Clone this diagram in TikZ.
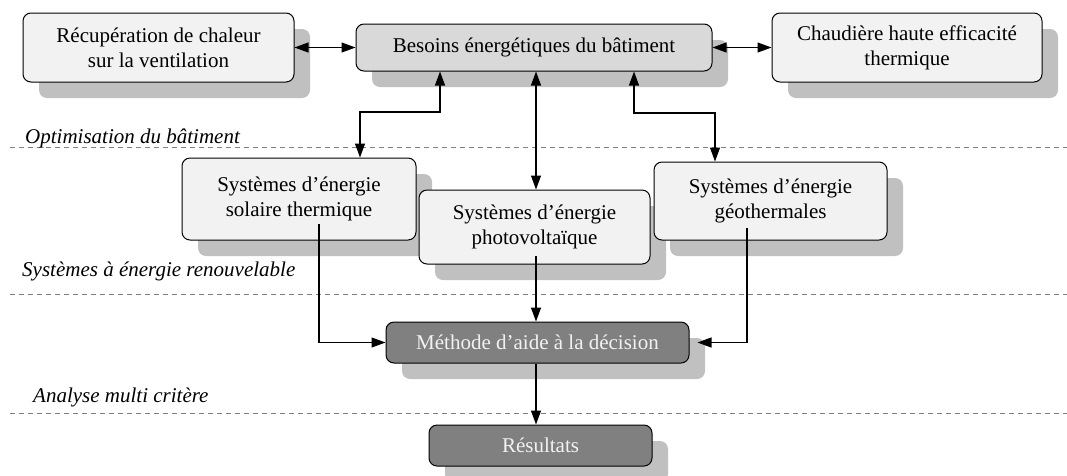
\documentclass[tikz,border=0pt]{standalone}
\usepackage{fontspec}
\setmainfont{Liberation Serif}
\usetikzlibrary{arrows.meta,shadows,calc}
\definecolor{light}{HTML}{F2F2F2}
\definecolor{mid}{HTML}{D9D9D9}
\definecolor{dark}{HTML}{808080}
\definecolor{shad}{HTML}{C0C0C0}
\definecolor{sep}{HTML}{7F7F7F}
\definecolor{wtext}{HTML}{F2F2F2}
\newcommand\bigf{\fontsize{21}{25}\selectfont}
\tikzset{
  box/.style={draw=black, line width=1pt, rounded corners=8pt, align=center, inner sep=0pt,
    font=\bigf, fill=light,
    general shadow={shadow xshift=16pt, shadow yshift=-16pt, fill=shad, draw=none}},
  midbox/.style={box, fill=mid},
  darkbox/.style={box, fill=dark, text=wtext},
  tip/.tip={Triangle[length=14pt,width=10pt]},
  arr/.style={-tip, line width=1.1pt},
  darr/.style={tip-tip, line width=1.1pt},
  sepline/.style={draw=sep, line width=1pt, dash pattern=on 5pt off 4pt},
  lbl/.style={font=\bigf\itshape, anchor=base west, inner sep=0pt},
}
\begin{document}
\begin{tikzpicture}[x=1pt,y=-1pt]
\useasboundingbox (0,0) rectangle (1067,475);
% separators
\coordinate (l1a) at (10,147); \coordinate (l1b) at (1067,147);
\coordinate (l2a) at (10,294); \coordinate (l2b) at (1067,294);
\coordinate (l3a) at (10,413); \coordinate (l3b) at (1067,413);
\draw[sepline] (l1a) -- (l1b);
\draw[sepline] (l2a) -- (l2b);
\draw[sepline] (l3a) -- (l3b);
\node[lbl] (t1) at (25,143) {Optimisation du bâtiment};
\node[lbl] (t2) at (22,276) {Systèmes à énergie renouvelable};
\node[lbl] (t3) at (33,402) {Analyse multi critère};
% boxes
\node[box, minimum width=271pt, minimum height=69pt] (recup) at (158.5,47.5) {Récupération de chaleur\\sur la ventilation};
\node[midbox, minimum width=356pt, minimum height=47pt] (besoins) at (534,47.5) {Besoins énergétiques du bâtiment};
\node[box, minimum width=270pt, minimum height=69pt] (chaud) at (907,47.5) {Chaudière haute efficacité\\thermique};
\node[box, minimum width=234pt, minimum height=82pt] (sol) at (299,199) {Systèmes d’énergie\\solaire thermique};
\node[box, minimum width=231pt, minimum height=74pt] (pv) at (534.5,227) {Systèmes d’énergie\\photovoltaïque};
\node[box, minimum width=233pt, minimum height=78pt] (geo) at (770.5,201) {Systèmes d’énergie\\géothermales};
\node[darkbox, minimum width=303pt, minimum height=41pt] (meth) at (537.5,342.5) {Méthode d’aide à la décision};
\node[darkbox, minimum width=223pt, minimum height=41pt] (res) at (540.5,445.5) {Résultats};
% connectors
\draw[darr] (recup.east) -- (besoins.west);
\draw[darr] (besoins.east) -- (chaud.west);
\draw[darr] (besoins.south -| 440,0) -- (440,112) -| (sol.north -| 360,0);
\draw[darr] (besoins.south -| 536,0) -- (pv.north -| 536,0);
\draw[darr] (besoins.south -| 634,0) -- (634,113) -| (geo.north -| 715,0);
\coordinate (s1) at (319,224);
\coordinate (p1) at (536,256);
\coordinate (g1) at (747,228);
\draw[arr] (s1) |- (meth.west);
\draw[arr] (p1) -- (meth.north -| p1);
\draw[arr] (g1) |- ($(meth.east)+(8,0)$);
\draw[arr] (meth.south -| 536,0) -- (res.north -| 536,0);
\end{tikzpicture}
\end{document}
